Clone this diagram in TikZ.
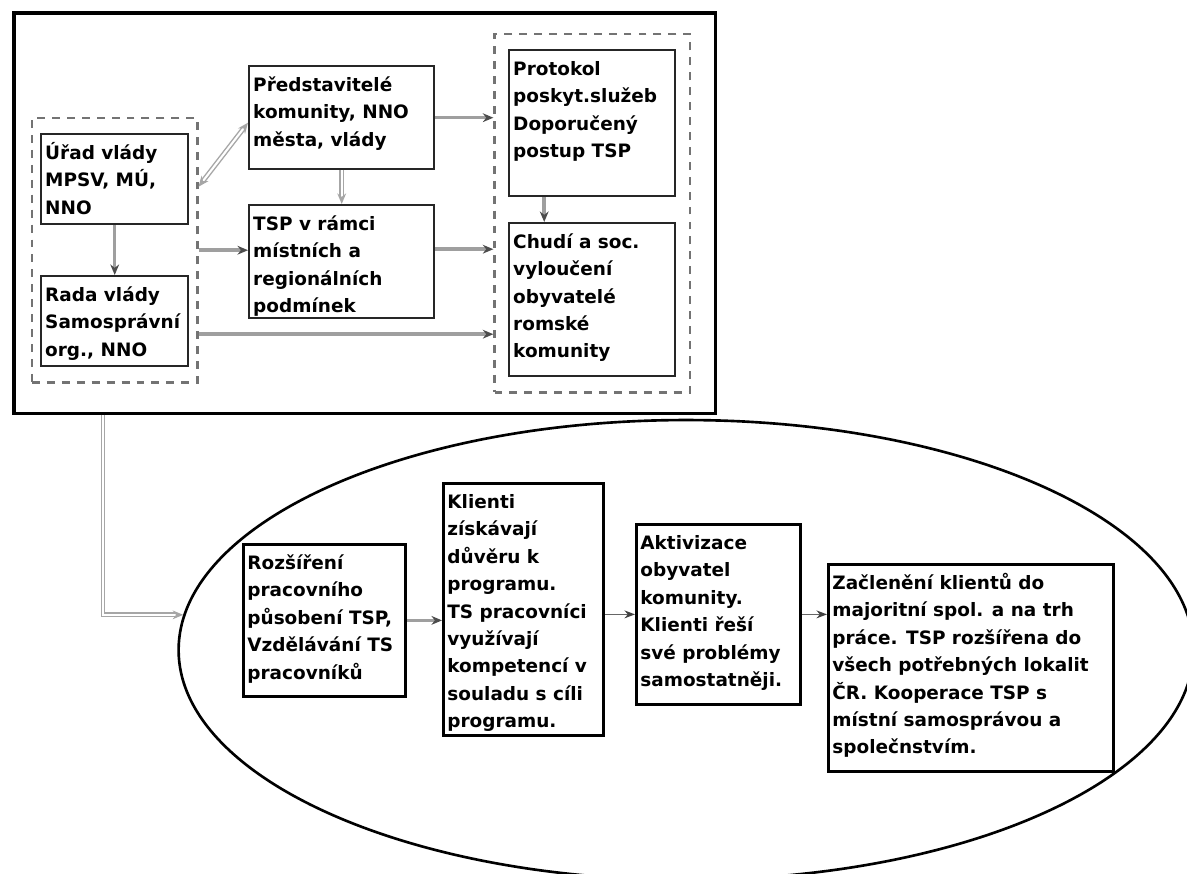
\documentclass[tikz,border=0pt]{standalone}
\usepackage{fontspec}
\setmainfont{DejaVu Sans}
\usetikzlibrary{shapes,fit,arrows.meta}
\newcommand{\btext}[3]{\parbox[t][#2][t]{#1}{\raggedright\rule{0pt}{0.4cm}#3}}

\begin{document}
\begin{tikzpicture}[x=0.02cm,y=-0.02cm,>={Stealth[length=6pt,width=5pt]}]
        \tikzstyle{every node}=[font=\bfseries\fontsize{10.5}{15.6}\selectfont]

        \tikzstyle{frame}=[draw,line width=2pt,anchor=north west,inner sep=0pt]
        \tikzstyle{box}=[draw=black!85,line width=1.4pt,fill=white,anchor=north west,inner xsep=0.08cm,inner ysep=0.1cm]
        \tikzstyle{lbox}=[box,draw=black,line width=1.6pt]
        \tikzstyle{grp}=[draw=black!55,line width=1.3pt,dash pattern=on 4.5pt off 4pt,inner ysep=0.3cm]
        \tikzstyle{link}=[-{Stealth[length=6pt,width=5pt,black!70]},draw=gray!75,line width=2pt]
        \tikzstyle{dlink}=[->,draw=gray!70,double=white,double distance=1.2pt,line width=0.8pt]
        \tikzstyle{flow}=[-{Stealth[length=6pt,width=4.5pt,black!75]},draw=gray!80!black,line width=0.7pt]

        \useasboundingbox[fill=white] (0,0) rectangle (1187,874);

        % upper part
        \node [frame,minimum width=14.04cm,minimum height=8.02cm] (frame) at (12,11) {};
        \node [box] (urad) at (40,133) {\btext{2.78cm}{1.6cm}{Úřad vlády\\MPSV, MÚ,\\NNO}};
        \node [box] (rada) at (40,275) {\btext{2.78cm}{1.6cm}{Rada vlády\\Samosprávní\\org., NNO}};
        \node [box] (pred) at (248,65) {\btext{3.54cm}{1.86cm}{Představitelé\\komunity, NNO\\města, vlády}};
        \node [box] (tsp) at (248,204) {\btext{3.54cm}{2.06cm}{TSP v rámci\\místních a\\regionálních\\podmínek}};
        \node [box] (prot) at (508,49) {\btext{3.16cm}{2.72cm}{Protokol\\poskyt.služeb\\Doporučený\\postup TSP}};
        \node [box] (chudi) at (508,222) {\btext{3.16cm}{2.86cm}{Chudí a soc.\\vyloučení\\obyvatelé\\romské\\komunity}};
        \node [grp,inner xsep=0.16cm,fit=(urad)(rada)] (left) {};
        \node [grp,inner xsep=0.27cm,fit=(prot)(chudi)] (right) {};

        \draw[dlink,<->] ([yshift=-0.15cm]urad.east -| left.east) -- ([yshift=-0.1cm]pred.west);  % urad<->pred
        \draw[dlink] (pred) -- (tsp);                              % pred->tsp
        \draw[link] (urad) -- (rada);                              % urad->rada
        \draw[link] (left.east) -- (left.east -| tsp.west);        % left->tsp
        \draw[link] (pred.east) -- (pred.east -| right.west);      % pred->right
        \draw[link] ([yshift=0.25cm]tsp.east) -- ([yshift=0.25cm]tsp.east -| right.west);  % tsp->right
        \draw[link] ([yshift=-0.26cm]rada.east -| left.east) -- ([yshift=-0.26cm]rada.east -| right.west);  % left->right
        \draw[link] ([xshift=-0.96cm]prot.south) -- ([xshift=-0.96cm]prot.south |- chudi.north);  % prot->chudi

        % lower part
        \node [draw,ellipse,line width=1.5pt,inner sep=0pt,minimum width=20.3cm,minimum height=9.2cm] (ell) at (686,650) {};
        \node [lbox] (roz) at (242,543) {\btext{3.08cm}{2.84cm}{Rozšíření\\pracovního\\působení TSP,\\Vzdělávání TS\\pracovníků}};
        \node [lbox] (klienti) at (442,482) {\btext{3.04cm}{4.84cm}{Klienti\\získávají\\důvěru k\\programu.\\TS pracovníci\\využívají\\kompetencí v\\souladu s cíli\\programu.}};
        \node [lbox] (akt) at (635,523) {\btext{3.12cm}{3.4cm}{Aktivizace\\obyvatel\\komunity.\\Klienti řeší\\své problémy\\samostatněji.}};
        \node [lbox] (zac) at (827,563) {\btext{5.54cm}{3.94cm}{Začlenění klientů do\\majoritní spol. a na trh\\práce. TSP rozšířena do\\všech potřebných lokalit\\ČR. Kooperace TSP s\\místní samosprávou a\\společnstvím.}};

        \draw[dlink] ([xshift=1.82cm]frame.south west) |- (ell.176);  % frame->ell
        \draw[link] (roz.east) -- (roz.east -| klienti.west);          % roz->klienti
        \draw[flow] (akt.west -| klienti.east) -- (akt.west);          % klienti->akt
        \draw[flow] (akt.east) -- (akt.east -| zac.west);              % akt->zac

\end{tikzpicture}
\end{document}
